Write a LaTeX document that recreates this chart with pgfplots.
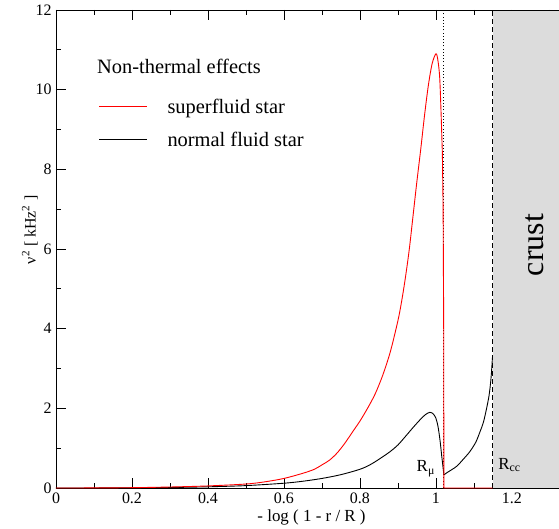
\documentclass[border=0pt]{standalone}
\usepackage{fontspec}
\setmainfont{Liberation Serif}
\usepackage{pgfplots}
\pgfplotsset{compat=1.18}
\definecolor{crustgray}{RGB}{220,220,220}
\begin{document}
\begin{tikzpicture}
\begin{axis}[name=ax, scale only axis, width=503bp, height=478bp,
  xmin=0, xmax=1.324, ymin=0, ymax=12,
  xtick={0,0.2,0.4,0.6,0.8,1,1.2}, xticklabels={0,0.2,0.4,0.6,0.8,1,1.2},
  minor xtick={0.1,0.3,0.5,0.7,0.9,1.1,1.3},
  ytick={0,2,4,6,8,10,12}, yticklabels={0,2,4,6,8,10,12},
  minor ytick={1,3,5,7,9,11},
  tick align=inside, xtick pos=both, ytick pos=left,
  major tick length=10bp, minor tick length=5bp,
  every tick/.style={black, line width=0.8bp},
  axis line style={draw=none},
  ticklabel style={font=\fontsize{16}{18}\selectfont},
  /pgf/number format/assume math mode=true,
  xticklabel style={yshift=-1bp},
  yticklabel style={xshift=-1bp},
  xlabel={- log ( 1 - r / R )},
  xlabel style={font=\fontsize{17}{19}\selectfont, at={(axis description cs:0.508,0)}, anchor=base, yshift=-33bp},
  ylabel={ν\textsuperscript{2} [ kHz\textsuperscript{2} ]},
  ylabel style={font=\fontsize{16}{18}\selectfont, at={(axis description cs:-0.052,0.54)}, anchor=center, rotate=0},
  clip=false,
]
\addplot[draw=none, fill=crustgray] coordinates {(1.149,0) (1.324,0) (1.324,12) (1.149,12)} -- cycle;
\draw[black, line width=0.9bp] (rel axis cs:0,1) -- (rel axis cs:0,0) -- (rel axis cs:1,0);
\draw[black, line width=0.9bp] (rel axis cs:0,1) -- (rel axis cs:1,1);
\addplot[black, line width=0.8bp, dash pattern=on 5bp off 3bp] coordinates {(1.149,0) (1.149,12)};
\addplot[black, line width=0.8bp, dash pattern=on 1bp off 2.2bp] coordinates {(1.021,0) (1.021,12)};
% normal fluid star
\addplot[black, line width=0.9bp, smooth, tension=0.5] coordinates {
(0,0) (0.1,0.001) (0.2,0.004) (0.3,0.012) (0.4,0.03) (0.5,0.06) (0.6,0.12) (0.65,0.17)
(0.70,0.24) (0.75,0.335) (0.80,0.47) (0.826,0.58) (0.85,0.72) (0.879,0.91)
(0.90,1.08) (0.923,1.33) (0.94,1.52) (0.958,1.71) (0.972,1.84) (0.984,1.90)
(0.993,1.86) (1.0,1.75) (1.005,1.57) (1.009,1.33) (1.012,1.1) (1.015,0.83)
(1.018,0.58) (1.021,0.33)};
\addplot[black, line width=0.9bp, smooth, tension=0.5] coordinates {
(1.021,0.33) (1.03,0.39) (1.054,0.54) (1.07,0.7) (1.089,0.91) (1.105,1.15)
(1.116,1.41) (1.125,1.65) (1.133,1.98) (1.14,2.33) (1.145,2.75) (1.149,3.3)};
% superfluid star
\addplot[red, line width=0.9bp, smooth, tension=0.5] coordinates {
(0,0) (0.1,0.002) (0.2,0.008) (0.3,0.025) (0.4,0.052) (0.5,0.1) (0.55,0.155)
(0.60,0.24) (0.65,0.37) (0.68,0.47) (0.70,0.58) (0.72,0.70) (0.74,0.88)
(0.76,1.12) (0.78,1.40) (0.80,1.68) (0.82,2.0) (0.84,2.36) (0.86,2.83)
(0.88,3.42) (0.90,4.20) (0.91,4.70) (0.92,5.30) (0.93,6.0) (0.94,6.85)
(0.95,7.7) (0.96,8.5) (0.97,9.35) (0.98,10.1) (0.99,10.65) (1.0,10.9)
(1.005,10.75) (1.01,10.3) (1.014,9.3)};
\addplot[red, line width=0.9bp] coordinates {
(1.014,9.3) (1.017,8.4) (1.019,7.0) (1.0205,4.0) (1.021,0) (1.149,0)};
% legend
\node[anchor=base west, inner sep=0pt, font=\fontsize{20.5}{22}\selectfont] at (axis cs:0.108,10.41) {Non-thermal effects};
\draw[red, line width=0.8bp] (axis cs:0.114,9.57) -- (axis cs:0.239,9.57);
\draw[black, line width=0.8bp] (axis cs:0.114,8.76) -- (axis cs:0.239,8.76);
\node[anchor=base west, inner sep=0pt, font=\fontsize{20.5}{22}\selectfont] at (axis cs:0.293,9.41) {superfluid star};
\node[anchor=base west, inner sep=0pt, font=\fontsize{20.5}{22}\selectfont] at (axis cs:0.293,8.57) {normal fluid star};
% annotations
\node[anchor=base west, font=\fontsize{17}{19}\selectfont, inner sep=0pt] at (axis cs:0.949,0.41) {R\textsubscript{μ}};
\node[anchor=base west, font=\fontsize{17}{19}\selectfont, inner sep=0pt] at (axis cs:1.164,0.47) {R\textsubscript{cc}};
\node[rotate=90, font=\fontsize{32}{34}\selectfont] at (axis cs:1.26,6.1) {crust};
\end{axis}
\pgfresetboundingbox
\path ([shift={(-56bp,-41bp)}]ax.south west) rectangle ([shift={(0bp,10bp)}]ax.north east);
\end{tikzpicture}
\end{document}
